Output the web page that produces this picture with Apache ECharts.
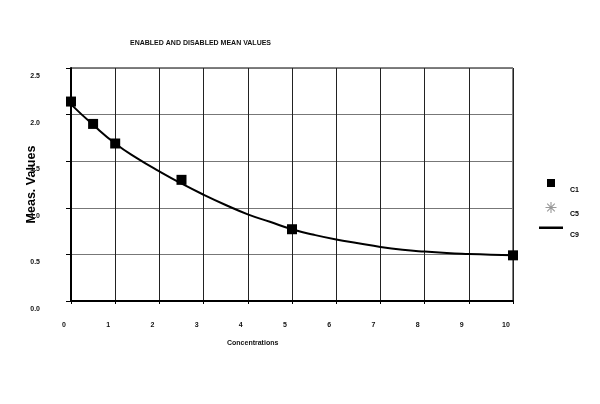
<!DOCTYPE html>
<html>
<head>
<meta charset="utf-8">
<script src="https://cdn.jsdelivr.net/npm/echarts@6/dist/echarts.min.js"></script>
<style>html,body{margin:0;padding:0;background:#fff;}#c{width:600px;height:404px;}</style>
</head>
<body>
<div id="c"></div>
<script>
const titleText = 'ENABLED AND DISABLED MEAN VALUES';
const xAxisTitle = 'Concentrations';
const yAxisTitle = 'Meas. Values';
const seriesNames = ['C1', 'C5', 'C9'];
const c1X = [0, 0.5, 1, 2.5, 5, 10];
const c1Y = [2.14, 1.9, 1.69, 1.3, 0.77, 0.49];
const c5X = [];
const c5Y = [];
const c9X = [0, 0.5, 1, 1.5, 2, 2.5, 3, 3.5, 4, 4.5, 5, 5.5, 6, 6.5, 7, 7.5, 8, 8.5, 9, 9.5, 10];
const c9Y = [2.11, 1.89, 1.69, 1.53, 1.39, 1.26, 1.14, 1.03, 0.93, 0.85, 0.77, 0.71, 0.66, 0.62, 0.58, 0.55, 0.53, 0.515, 0.505, 0.497, 0.49];
const xMin = 0, xMax = 10, xStep = 1;
const yMin = 0, yMax = 2.5, yStep = 0.5;

const pair = (xs, ys) => xs.map((x, i) => [x, ys[i]]);
const FONT = 'Liberation Sans, Arial, sans-serif';
const asterisk = 'path://M0,4.5h10v1h-10z M4.5,0h1v10h-1z M1.2,1.9L1.9,1.2L8.8,8.1L8.1,8.8z M8.1,1.2L8.8,1.9L1.9,8.8L1.2,8.1z';
const legendSquare = 'path://M-1.5,-1.5M9.5,9.5M0,0h8v8h-8z';
const legendLine = 'path://M0,0h24v2.5h-24z';

const chart = echarts.init(document.getElementById('c'), null, {renderer: 'canvas'});
chart.setOption({
  animation: false,
  backgroundColor: '#fff',
  title: {
    text: titleText, left: 125, top: 35,
    textStyle: {fontFamily: FONT, fontSize: 7, fontWeight: 'bold', color: '#111'}
  },
  graphic: [{
    type: 'text', left: 227, top: 340,
    style: {text: xAxisTitle, fontFamily: FONT, fontSize: 7, fontWeight: 'bold', fill: '#111'}
  }],
  legend: {
    orient: 'vertical', left: 539, top: 177.5, padding: 0,
    itemWidth: 24, itemHeight: 11, itemGap: 8.5,
    formatter: '{a|{name}}',
    textStyle: {fontFamily: FONT, fontSize: 7, fontWeight: 'bold', color: '#000',
      rich: {a: {fontFamily: FONT, fontSize: 7, fontWeight: 'bold', color: '#000', padding: [14, 0, 0, 2]}}},
    data: [
      {name: seriesNames[0], icon: legendSquare, itemStyle: {color: '#000'}},
      {name: seriesNames[1], icon: asterisk, itemStyle: {color: '#999'}},
      {name: seriesNames[2], icon: legendLine, itemStyle: {color: '#000'}}
    ]
  },
  grid: {left: 71, right: 87, top: 68, bottom: 103, show: true, borderColor: '#000', borderWidth: 1},
  xAxis: {
    type: 'value', min: xMin, max: xMax, interval: xStep,
    axisLine: {show: true, lineStyle: {color: '#000', width: 2}},
    axisTick: {show: true, length: 3, lineStyle: {color: '#000'}},
    axisLabel: {fontFamily: FONT, fontSize: 7, fontWeight: 'bold', color: '#111', margin: 21, padding: [0, 14, 0, 0],
      formatter: v => String(v)},
    splitLine: {show: true, lineStyle: {color: '#222', width: 1}}
  },
  yAxis: {
    type: 'value', min: yMin, max: yMax, interval: yStep,
    name: yAxisTitle, nameLocation: 'middle', nameGap: 33, nameRotate: 90, nameMoveOverlap: false,
    nameTextStyle: {fontFamily: FONT, fontSize: 12.5, fontWeight: 'bold', color: '#000', backgroundColor: '#fff'},
    axisLine: {show: true, lineStyle: {color: '#000', width: 2}},
    axisTick: {show: true, length: 5, lineStyle: {color: '#000'}},
    axisLabel: {fontFamily: FONT, fontSize: 7, fontWeight: 'bold', color: '#111', margin: 31,
      verticalAlign: 'top', lineHeight: 16,
      formatter: v => v.toFixed(1)},
    splitLine: {show: true, lineStyle: {color: '#777', width: 1}}
  },
  series: [
    {name: seriesNames[0], type: 'scatter', symbol: 'rect', symbolSize: 10, z: 5,
      itemStyle: {color: '#000', opacity: 1}, data: pair(c1X, c1Y)},
    {name: seriesNames[1], type: 'scatter', symbol: asterisk, symbolSize: 10, z: 4,
      itemStyle: {color: '#999', opacity: 1}, data: pair(c5X, c5Y)},
    {name: seriesNames[2], type: 'line', smooth: true, showSymbol: false, symbol: 'none', z: 3,
      lineStyle: {color: '#000', width: 2}, itemStyle: {color: '#000'}, data: pair(c9X, c9Y)}
  ]
});
</script>
</body>
</html>
